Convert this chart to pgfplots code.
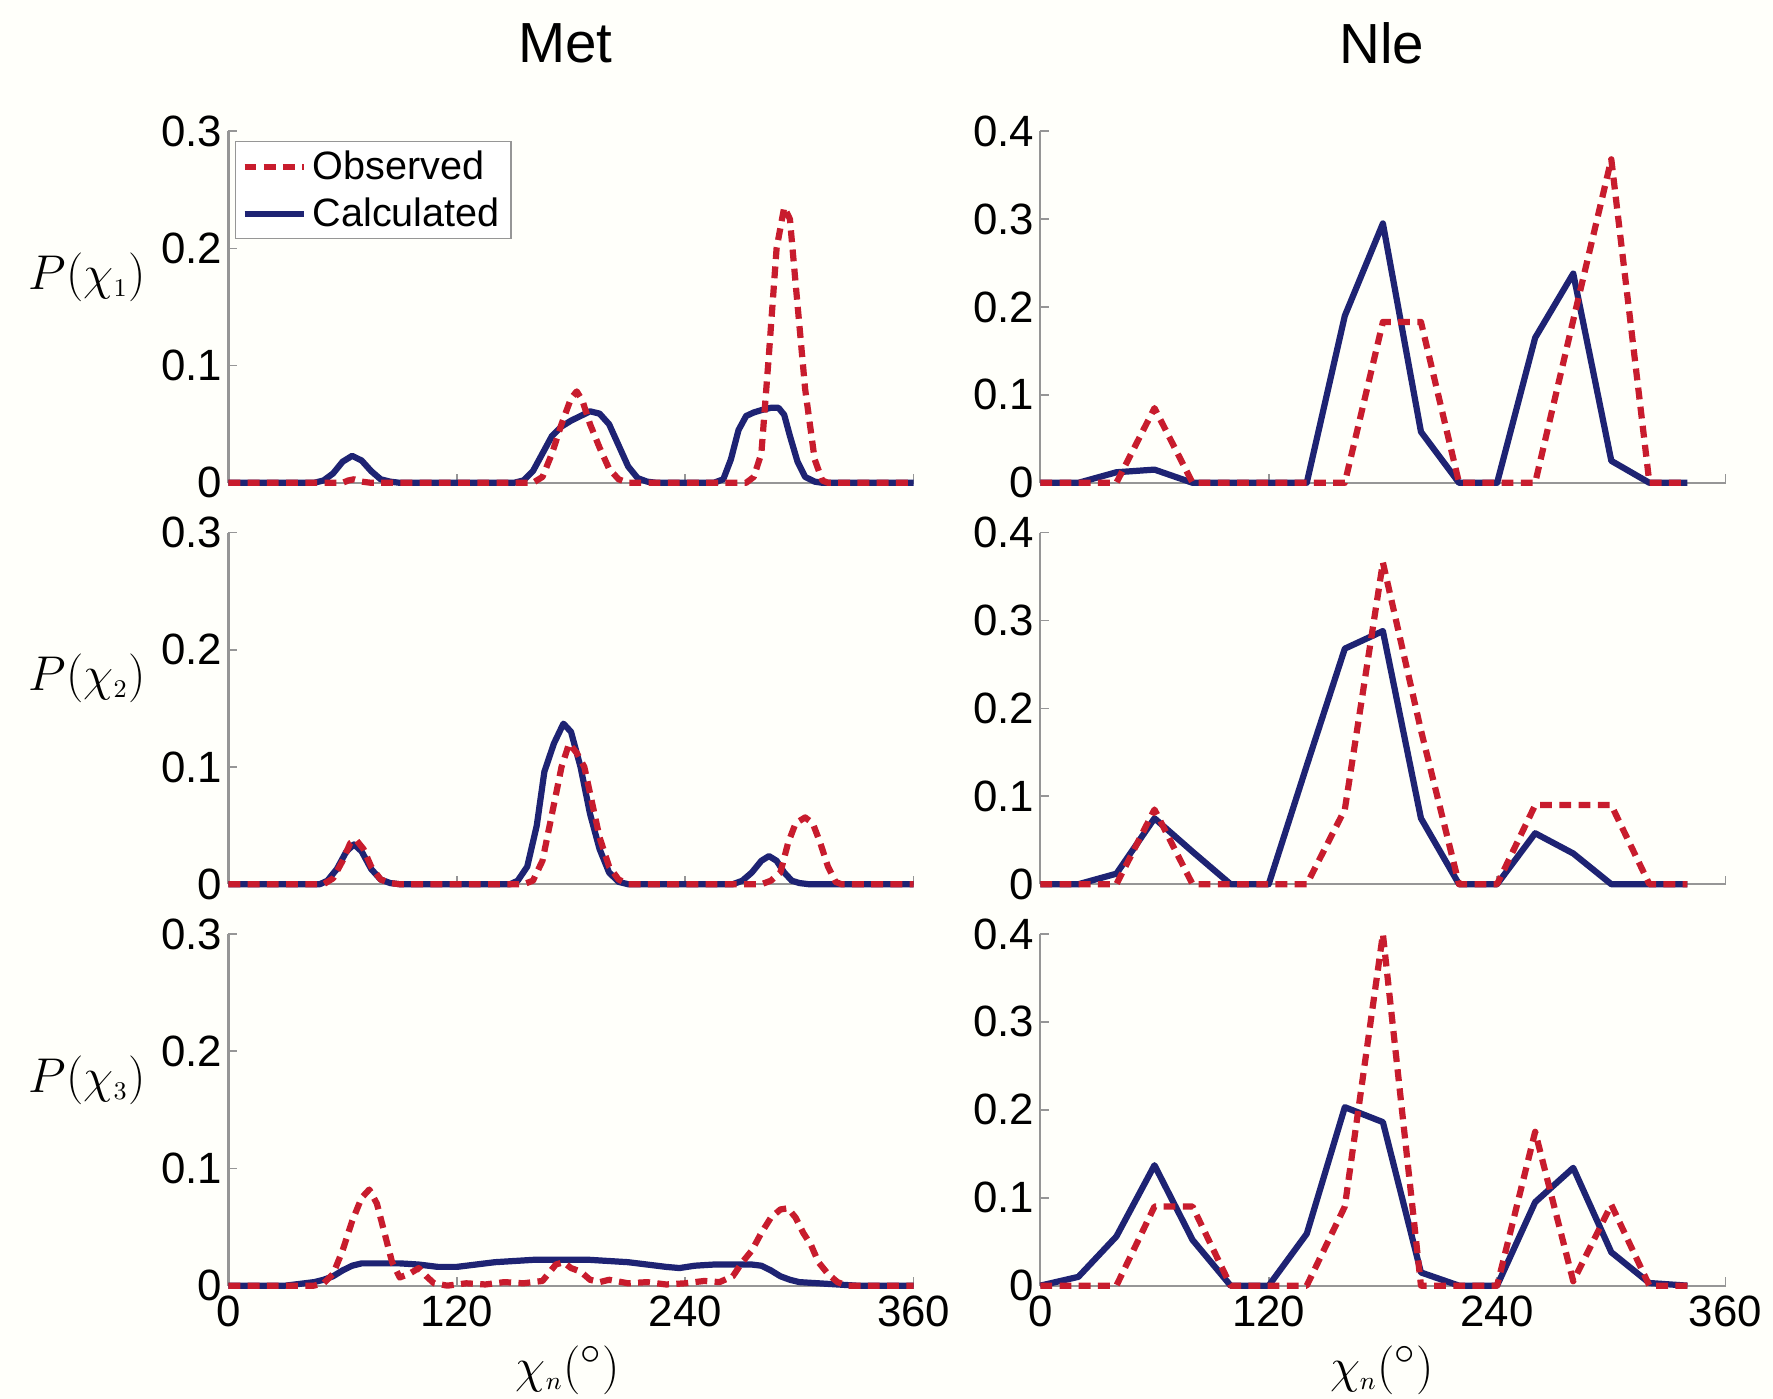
\documentclass[border=0pt]{standalone}
\usepackage[no-math]{fontspec}
\setmainfont{Liberation Sans}
\usepackage{pgfplots}
\pgfplotsset{compat=1.18}
\definecolor{obsred}{RGB}{200,28,45}
\definecolor{calcblue}{RGB}{30,35,115}
\definecolor{axgray}{RGB}{150,150,150}
\definecolor{bg}{RGB}{255,255,250}
\pgfplotsset{
  panel/.style={
    scale only axis, width=242.4pt, height=124.4pt,
    xmin=0, xmax=360, ymin=0,
    axis x line=bottom, axis y line=left,
    axis line style={-, draw=axgray, line width=0.8pt},
    xtick={0,120,240,360},
    tick align=inside, major tick length=3pt,
    tick style={axgray, line width=0.6pt},
    ticklabel style={font=\fontsize{15.5}{18}\selectfont},
    y tick label style={inner xsep=2pt},
    /pgf/number format/assume math mode=true,
    /pgf/number format/fixed,
    /pgf/number format/precision=1,
    clip=false,
    anchor=south west,
  },
  metpanel/.style={panel, ymax=0.3, ytick={0,0.1,0.2,0.3}},
  nlepanel/.style={panel, ymax=0.4, ytick={0,0.1,0.2,0.3,0.4}},
  obs/.style={obsred, line width=2.2pt, dash pattern=on 4.2pt off 2.6pt, line join=round},
  calc/.style={calcblue, line width=2.2pt, line join=round},
}
\begin{document}
\begin{tikzpicture}
\path[use as bounding box, fill=bg] (0,0) rectangle (627.2pt,494.8pt);

% ---------------- Met chi1 ----------------
\begin{axis}[metpanel, at={(80.8pt,324pt)}, xticklabels={},
  legend style={at={(0.0099,0.971)}, anchor=north west, draw=axgray, fill=white,
    font=\fontsize{14}{16}\selectfont, inner xsep=2pt, inner ysep=1pt, row sep=1pt,
    cells={anchor=west}},
  legend image code/.code={\draw[#1] (0pt,0pt) -- (21pt,0pt);}]
\addplot[calc, forget plot] coordinates {(0,0) (45,0) (50,0.002) (55,0.008) (60,0.018) (65,0.023) (70,0.019) (75,0.01) (80,0.003) (85,0.001) (90,0) (150,0) (155,0.002) (160,0.01) (165,0.025) (170,0.04) (175,0.048) (180,0.053) (185,0.057) (190,0.061) (195,0.059) (200,0.05) (205,0.032) (210,0.014) (215,0.004) (220,0.001) (225,0) (255,0) (260,0.003) (264,0.02) (268,0.045) (272,0.057) (276,0.06) (280,0.062) (285,0.064) (289,0.064) (292,0.058) (295,0.04) (299,0.018) (303,0.005) (308,0.001) (312,0) (360,0)};
\addplot[obs, forget plot] coordinates {(0,0) (60,0) (63,0.002) (66,0.003) (70,0.001) (75,0) (160,0) (165,0.005) (170,0.025) (175,0.05) (180,0.072) (183,0.078) (186,0.07) (190,0.05) (195,0.03) (200,0.012) (205,0.003) (210,0) (272,0) (276,0.005) (280,0.025) (284,0.11) (288,0.2) (292,0.235) (295,0.225) (298,0.17) (303,0.08) (308,0.02) (312,0.002) (315,0) (360,0)};
\addlegendimage{obs}\addlegendentry{Observed}
\addlegendimage{calc}\addlegendentry{Calculated}
\end{axis}

% ---------------- Met chi2 ----------------
\begin{axis}[metpanel, at={(80.8pt,182pt)}, xticklabels={}]
\addplot[calc] coordinates {(0,0) (48,0) (52,0.003) (57,0.013) (62,0.028) (66,0.034) (70,0.028) (75,0.013) (80,0.004) (85,0.001) (90,0) (148,0) (152,0.003) (157,0.015) (162,0.05) (166,0.096) (171,0.12) (176,0.137) (180,0.13) (185,0.1) (190,0.06) (195,0.03) (200,0.01) (205,0.002) (210,0) (265,0) (270,0.003) (275,0.01) (280,0.02) (284,0.024) (288,0.02) (292,0.01) (296,0.003) (300,0.001) (305,0) (360,0)};
\addplot[obs] coordinates {(0,0) (50,0) (55,0.005) (60,0.02) (64,0.035) (67,0.038) (71,0.03) (75,0.015) (80,0.004) (85,0.001) (90,0) (155,0) (160,0.003) (165,0.02) (170,0.06) (175,0.1) (179,0.12) (183,0.112) (187,0.1) (191,0.07) (195,0.04) (200,0.015) (205,0.004) (210,0) (280,0) (285,0.003) (290,0.01) (294,0.035) (298,0.052) (303,0.057) (307,0.052) (311,0.035) (315,0.015) (319,0.002) (322,0) (360,0)};
\end{axis}

% ---------------- Met chi3 ----------------
\begin{axis}[metpanel, at={(80.8pt,40pt)}]
\addplot[calc] coordinates {(0,0) (30,0) (35,0.001) (40,0.002) (45,0.003) (50,0.005) (55,0.008) (60,0.013) (65,0.017) (70,0.019) (80,0.019) (90,0.019) (100,0.018) (110,0.016) (120,0.016) (130,0.018) (140,0.02) (150,0.021) (160,0.022) (170,0.022) (180,0.022) (190,0.022) (200,0.021) (210,0.02) (220,0.018) (230,0.016) (237,0.015) (245,0.017) (255,0.018) (265,0.018) (275,0.018) (280,0.017) (285,0.013) (290,0.008) (295,0.005) (300,0.003) (310,0.002) (320,0.001) (330,0) (360,0)};
\addplot[obs] coordinates {(0,0) (45,0) (50,0.002) (55,0.01) (60,0.03) (65,0.055) (70,0.075) (74,0.082) (78,0.07) (82,0.045) (86,0.02) (90,0.007) (95,0.01) (100,0.015) (104,0.008) (108,0.002) (115,0) (125,0.002) (135,0.001) (145,0.003) (155,0.002) (165,0.004) (172,0.018) (176,0.02) (180,0.015) (185,0.012) (190,0.005) (195,0.003) (200,0.005) (210,0.002) (220,0.003) (230,0.001) (240,0.002) (250,0.004) (258,0.003) (265,0.008) (270,0.02) (275,0.03) (280,0.045) (285,0.058) (290,0.065) (294,0.066) (298,0.058) (302,0.045) (306,0.035) (310,0.02) (315,0.01) (320,0.003) (325,0) (360,0)};
\end{axis}

% ---------------- Nle chi1 ----------------
\begin{axis}[nlepanel, at={(368pt,324pt)}, xticklabels={}]
\addplot[calc] coordinates {(0,0) (20,0) (40,0.012) (60,0.015) (80,0) (100,0) (120,0) (140,0) (160,0.19) (180,0.295) (200,0.058) (220,0) (240,0) (260,0.165) (280,0.238) (300,0.025) (320,0) (340,0)};
\addplot[obs] coordinates {(0,0) (20,0) (40,0) (60,0.085) (80,0) (100,0) (120,0) (140,0) (160,0) (180,0.183) (200,0.183) (220,0) (240,0) (260,0) (280,0.185) (300,0.368) (320,0) (340,0)};
\end{axis}

% ---------------- Nle chi2 ----------------
\begin{axis}[nlepanel, at={(368pt,182pt)}, xticklabels={}]
\addplot[calc] coordinates {(0,0) (20,0) (40,0.012) (60,0.075) (80,0.037) (100,0) (120,0) (140,0.135) (160,0.268) (180,0.288) (200,0.075) (220,0) (240,0) (260,0.058) (280,0.035) (300,0) (320,0) (340,0)};
\addplot[obs] coordinates {(0,0) (20,0) (40,0) (60,0.085) (80,0) (100,0) (120,0) (140,0) (160,0.085) (180,0.366) (200,0.175) (220,0) (240,0) (260,0.09) (280,0.09) (300,0.09) (320,0) (340,0)};
\end{axis}

% ---------------- Nle chi3 ----------------
\begin{axis}[nlepanel, at={(368pt,40pt)}]
\addplot[calc] coordinates {(0,0) (20,0.01) (40,0.056) (60,0.137) (80,0.052) (100,0) (120,0) (140,0.059) (160,0.203) (180,0.186) (200,0.015) (220,0) (240,0) (260,0.095) (280,0.134) (300,0.038) (320,0.003) (340,0)};
\addplot[obs] coordinates {(0,0) (20,0) (40,0) (60,0.09) (80,0.09) (100,0) (120,0) (140,0) (160,0.09) (180,0.4) (200,0) (220,0) (240,0) (260,0.175) (280,0.005) (300,0.092) (320,0) (340,0)};
\end{axis}

% ---------------- labels ----------------
\node at (200pt,479.6pt) {\fontsize{20}{24}\selectfont Met};
\node at (488.8pt,479.6pt) {\fontsize{20}{24}\selectfont Nle};
\node at (30.8pt,396.8pt) {\fontsize{19}{22}\selectfont $P(\chi_{\scriptscriptstyle 1})$};
\node at (30.8pt,254.8pt) {\fontsize{19}{22}\selectfont $P(\chi_{\scriptscriptstyle 2})$};
\node at (30.8pt,112.8pt) {\fontsize{19}{22}\selectfont $P(\chi_{\scriptscriptstyle 3})$};
\node at (200.8pt,10pt) {\fontsize{19}{22}\selectfont $\chi_{\scriptscriptstyle n}(^\circ)$};
\node at (488.8pt,10pt) {\fontsize{19}{22}\selectfont $\chi_{\scriptscriptstyle n}(^\circ)$};
\end{tikzpicture}
\end{document}
